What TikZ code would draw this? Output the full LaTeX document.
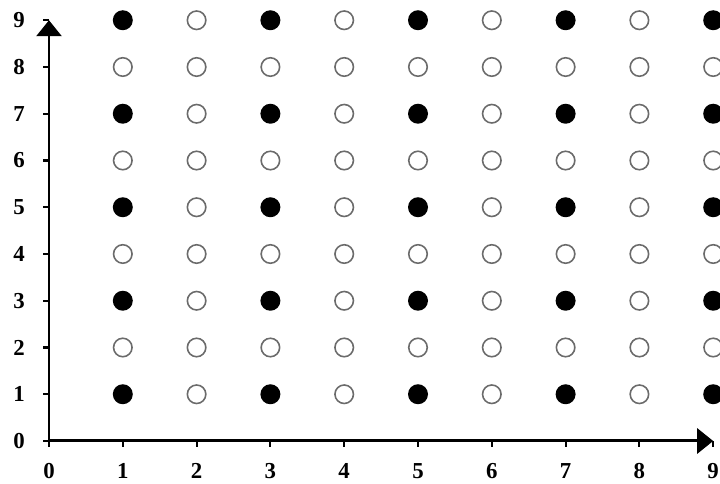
\documentclass[tikz,border=0pt]{standalone}
\usepackage{fontspec}
\setmainfont{Liberation Serif}
\usetikzlibrary{arrows.meta}

\begin{document}
\begin{tikzpicture}[x=1.476cm,y=0.935cm,font=\fontsize{13}{15}\selectfont\bfseries,>={Triangle[length=0.32cm,width=0.5cm]},
   axis/.style={line width=1.7pt},
   tick/.style={line width=1.2pt},
   full/.style={circle,fill=black,inner sep=0pt,minimum size=0.4cm},
   hollow/.style={circle,draw=black!58,line width=0.9pt,inner sep=0pt,minimum size=0.37cm}]
  \useasboundingbox (-0.98cm,-0.86cm) rectangle (13.42cm,8.82cm);
  \coordinate (o) at (0,0);
  \coordinate (xend) at (9,0);
  \coordinate (yend) at (0,9);
  \draw[axis,->] (o) -- (xend);
  \draw[axis,->] (o) -- (yend);
  % ticks and labels
  \foreach \i in {0,...,9} {
    \draw[tick] (\i,0) -- ++(0,-0.12cm);
    \draw[tick] (0,\i) -- ++(-0.12cm,0);
    \node (xl\i) at ([yshift=-0.6cm]\i,0) {\i};
    \node (yl\i) at ([xshift=-0.6cm]0,\i) {\i};
  }
  % lattice points
  \foreach \x in {1,...,9}
    \foreach \y in {1,...,9} {
      \pgfmathparse{(isodd(\x) && isodd(\y)) ? "full" : "hollow"}
      \node[\pgfmathresult] (p\x\y) at (\x,\y) {};
    }
\end{tikzpicture}
\end{document}
